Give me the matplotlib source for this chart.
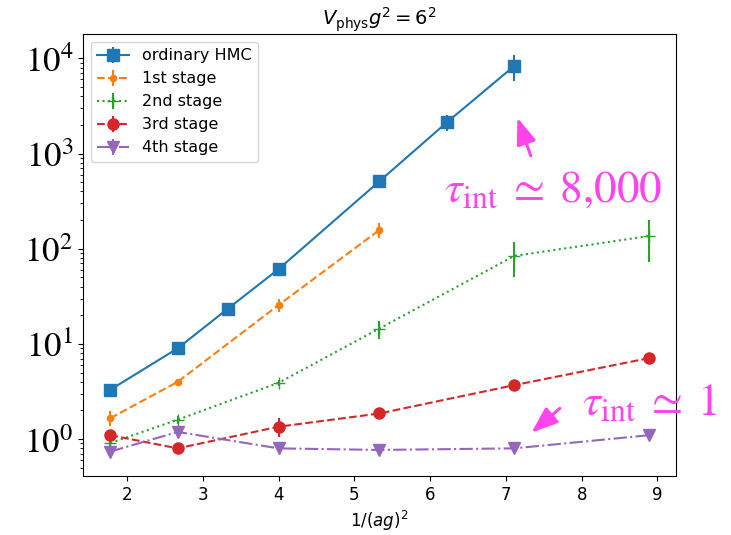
import matplotlib
matplotlib.use("Agg")
import matplotlib.pyplot as plt

plt.rcParams["font.size"] = 12

# integrated autocorrelation time vs 1/(ag)^2 at V_phys g^2 = 6^2
x_hmc = [1.78, 2.67, 3.33, 4.00, 5.33, 6.22, 7.11]
tau_hmc = [3.3, 9.0, 23.4, 61, 510, 2120, 8300]
err_hmc = [0.2, 0.5, 1.2, 4, 25, 400, 2500]

x_s1 = [1.78, 2.67, 4.00, 5.33]
tau_s1 = [1.66, 4.0, 25.6, 157]
err_s1 = [0.3, 0.2, 4, 28]

x_s2 = [1.78, 2.67, 4.00, 5.33, 7.11, 8.89]
tau_s2 = [0.91, 1.6, 3.9, 14.5, 84, 136]
err_s2 = [0.06, 0.15, 0.3, 3.1, 34, 63]

x_s3 = [1.78, 2.67, 4.00, 5.33, 7.11, 8.89]
tau_s3 = [1.10, 0.80, 1.35, 1.86, 3.69, 7.1]
err_s3 = [0.08, 0.05, 0.3, 0.25, 0.2, 0.5]

x_s4 = [1.78, 2.67, 4.00, 5.33, 7.11, 8.89]
tau_s4 = [0.74, 1.19, 0.80, 0.77, 0.80, 1.10]
err_s4 = [0.05, 0.15, 0.03, 0.03, 0.03, 0.05]

ytick_vals = [1, 10, 100, 1000, 10000]
ytick_labels = [r"$10^{0}$", r"$10^{1}$", r"$10^{2}$", r"$10^{3}$", r"$10^{4}$"]

MAG = "#ff44ee"

fig = plt.figure(figsize=(7.31, 5.35), dpi=100)
ax = fig.add_axes([83 / 731, 1 - 476 / 535, (676 - 83) / 731, (476 - 34) / 535])

ax.errorbar(x_hmc, tau_hmc, yerr=err_hmc, fmt="s-", color="C0", ms=8, label="ordinary HMC")
ax.errorbar(x_s1, tau_s1, yerr=err_s1, fmt=".--", color="C1", ms=9, label="1st stage")
ax.errorbar(x_s2, tau_s2, yerr=err_s2, fmt="+:", color="C2", ms=9, label="2nd stage")
ax.errorbar(x_s3, tau_s3, yerr=err_s3, fmt="o--", color="C3", ms=8, label="3rd stage")
ax.errorbar(x_s4, tau_s4, yerr=err_s4, fmt="v-.", color="C4", ms=8, label="4th stage")

ax.set_yscale("log")
ax.set_xlim(1.42, 9.245)
ax.set_ylim(0.41, 1.8e4)
ax.set_yticks(ytick_vals)
ax.set_yticklabels(ytick_labels, fontsize=25, math_fontfamily="stix")
ax.set_xlabel(r"$1/(ag)^2$")
ax.set_title(r"$V_{\rm phys}g^2 = 6^2$", fontsize=14)
ax.legend(loc="upper left", fontsize=11.5)

arrow = dict(arrowstyle="-|>,head_length=0.8,head_width=0.3",
             mutation_scale=20, color=MAG, lw=2.2)
ax.annotate("", xy=(7.14, 2530), xytext=(7.34, 889), arrowprops=arrow)
ax.text(6.19, 311, r"$\tau_{\rm int}\;\simeq\;8{,}000$", color=MAG, fontsize=32.5,
        math_fontfamily="stix", ha="left", va="baseline")

ax.annotate("", xy=(7.31, 1.12), xytext=(7.74, 2.2), arrowprops=arrow)
ax.text(8.01, 1.79, r"$\tau_{\rm int}\;\simeq\;1$", color=MAG, fontsize=32.5,
        math_fontfamily="stix", ha="left", va="baseline")

fig.savefig("out.png", dpi=100)
